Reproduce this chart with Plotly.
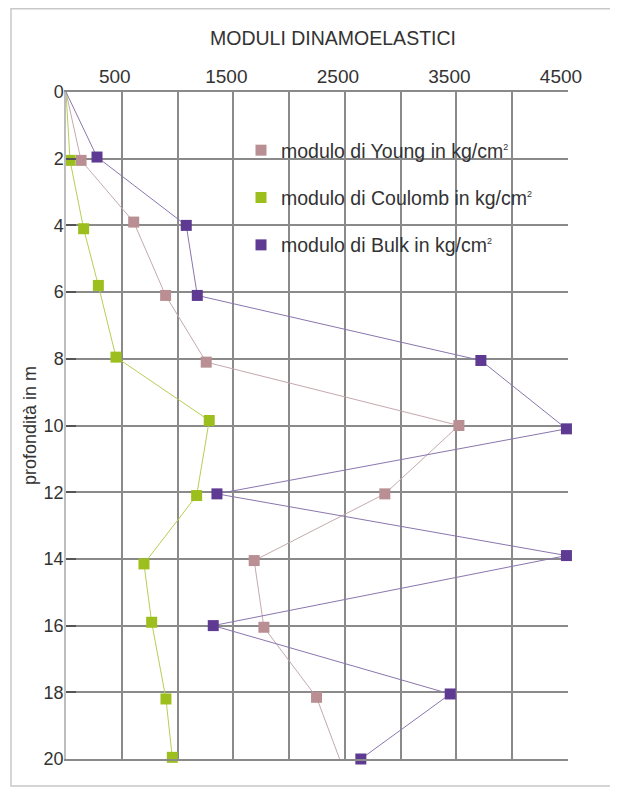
import plotly.graph_objects as go

# ---- data ----
young_depth = [0, 2.05, 3.9, 6.1, 8.1, 10.0, 12.05, 14.05, 16.05, 18.15, 20.1]
young_val = [0, 135, 607, 893, 1257, 3522, 2858, 1687, 1774, 2246, 2464]

coulomb_depth = [0, 2.05, 4.1, 5.8, 7.95, 9.85, 12.1, 14.15, 15.9, 18.2, 19.95]
coulomb_val = [0, 36, 158, 290, 448, 1284, 1171, 699, 768, 896, 953]

bulk_depth = [0, 1.95, 4.0, 6.1, 8.05, 10.1, 12.05, 13.9, 16.0, 18.05, 20.0]
bulk_val = [0, 278, 1078, 1177, 3719, 4486, 1353, 4486, 1320, 3444, 2643]

x_tickvals = [0, 500, 1000, 1500, 2000, 2500, 3000, 3500, 4000, 4500]
x_ticktext = ["", "500", "", "1500", "", "2500", "", "3500", "", "4500"]
y_tickvals = [0, 2, 4, 6, 8, 10, 12, 14, 16, 18, 20]

SUP2 = "<sup><span style='font-size:9px'>2</span></sup>"
series = [
    ("modulo di Young in kg/cm" + SUP2, young_val, young_depth, "#b98f93", "#c4a9ac"),
    ("modulo di Coulomb in kg/cm" + SUP2, coulomb_val, coulomb_depth, "#9dbf1d", "#b5cf55"),
    ("modulo di Bulk in kg/cm" + SUP2, bulk_val, bulk_depth, "#5e3a92", "#8a76ad"),
]

fig = go.Figure()
for i, (name, xv, yv, mcol, lcol) in enumerate(series):
    fig.add_trace(go.Scatter(
        x=xv, y=yv, mode="lines", line=dict(color=lcol, width=1),
        showlegend=False, hoverinfo="skip", cliponaxis=False))
for i, (name, xv, yv, mcol, lcol) in enumerate(series):
    fig.add_trace(go.Scatter(
        x=xv[1:], y=yv[1:], mode="markers", name=name,
        marker=dict(symbol="square", size=11, color=mcol, line=dict(width=0)),
        legendgroup=f"g{i}", cliponaxis=False))

# figure is drawn 8px in from the page corner (default body margin)
W, H = 610, 779
L, R, T, B = 58, 50, 84, 28
PW, PH = W - L - R, H - T - B

grid_col = "#8a8a8a"
fig.update_layout(
    width=W, height=H,
    margin=dict(l=L, r=R, t=T, b=B),
    paper_bgcolor="white", plot_bgcolor="white",
    font=dict(family="Liberation Sans, Arial, sans-serif", color="#333333"),
    title=dict(text="MODULI DINAMOELASTICI", x=325 / W, xanchor="center",
               xref="container", yref="container", y=1 - 30 / H, yanchor="middle",
               font=dict(size=19.5, color="#333333")),
    xaxis=dict(side="top", range=[0, 4500], tickvals=x_tickvals, ticktext=x_ticktext,
               showgrid=True, gridcolor=grid_col, gridwidth=1.5,
               showline=True, linecolor=grid_col, linewidth=1.5, mirror=True,
               zeroline=False, ticks="", ticklabelshift=-7,
               tickfont=dict(size=19, color="#333333")),
    yaxis=dict(range=[20, 0], tickvals=y_tickvals,
               showgrid=True, gridcolor=grid_col, gridwidth=1.5,
               showline=True, linecolor="#bdbdbd", linewidth=1.5, mirror=False,
               zeroline=False, ticks="inside", ticklen=10, tickcolor="#555555", tickwidth=1.5,
               ticklabelstandoff=-3,
               tickfont=dict(size=18, color="#333333"),
               title=dict(text="profondità in m", font=dict(size=18, color="#333333"), standoff=2)),
    legend=dict(x=(241 - L - 8) / PW, y=1 - (131 - T - 8) / PH, xanchor="left", yanchor="top",
                bgcolor="rgba(0,0,0,0)", tracegroupgap=19,
                font=dict(size=19.5, color="#333333")),
    shapes=[dict(type="rect", xref="paper", yref="paper",
                 x0=(3 - L) / PW, x1=(607 - L) / PW,
                 y0=-(778 - (T + PH)) / PH, y1=1 + (T - 0.75) / PH,
                 line=dict(color="#c8c8c8", width=1.5), layer="below")],
)

fig.write_html("out.html")
